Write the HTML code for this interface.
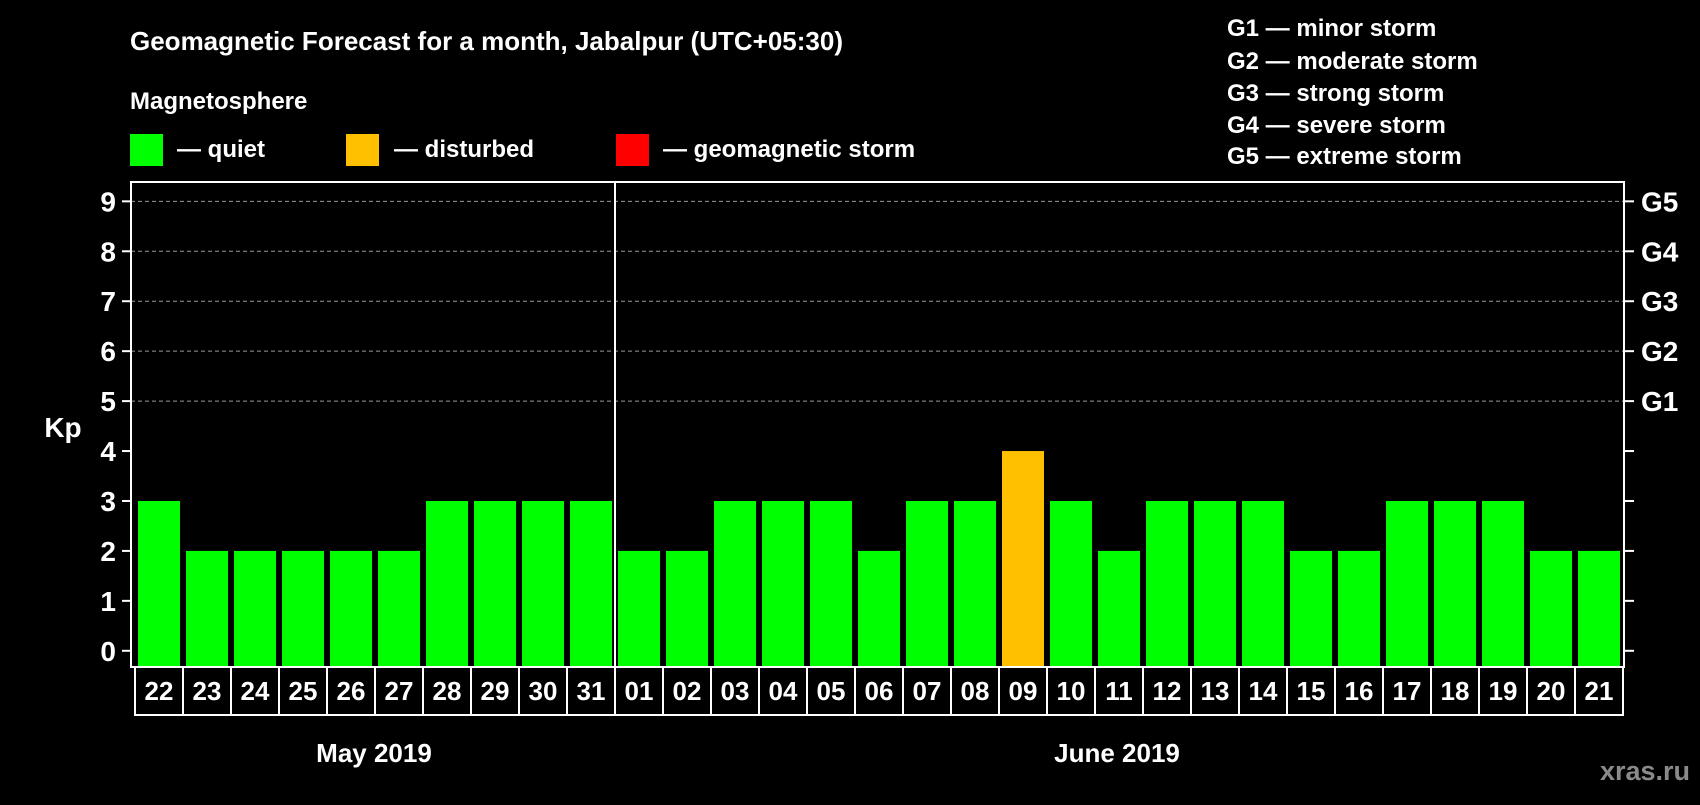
<!DOCTYPE html>
<html><head><meta charset="utf-8"><style>
body{margin:0;background:#000;width:1700px;height:800px;overflow:hidden}
svg text{font-family:"Liberation Sans",Arial,sans-serif;font-weight:bold;fill:#fff}
</style></head><body>
<svg id="chart" width="1700" height="800" viewBox="0 0 1700 800" xmlns="http://www.w3.org/2000/svg">
<rect width="1700" height="800" fill="#000"/>
<text x="130" y="50" font-size="26">Geomagnetic Forecast for a month, Jabalpur (UTC+05:30)</text>
<text x="130" y="109" font-size="24">Magnetosphere</text>
<rect x="130" y="134" width="33" height="32" fill="#00ff00"/>
<text x="177" y="157" font-size="24">— quiet</text>
<rect x="346" y="134" width="33" height="32" fill="#ffc000"/>
<text x="394" y="157" font-size="24">— disturbed</text>
<rect x="616" y="134" width="33" height="32" fill="#ff0000"/>
<text x="663" y="157" font-size="24">— geomagnetic storm</text>
<g font-size="24">
<text x="1227" y="36">G1 — minor storm</text>
<text x="1227" y="69">G2 — moderate storm</text>
<text x="1227" y="101">G3 — strong storm</text>
<text x="1227" y="133">G4 — severe storm</text>
<text x="1227" y="164">G5 — extreme storm</text>
</g>
<g id="grid"></g><g id="bars"></g><g id="axes"></g>
<text x="63" y="437" font-size="28" text-anchor="middle">Kp</text>
<text x="374" y="762" font-size="26" text-anchor="middle">May 2019</text>
<text x="1117" y="762" font-size="26" text-anchor="middle">June 2019</text>
<text x="1690" y="780" font-size="27" fill="#8a8a8a" style="fill:#8a8a8a" text-anchor="end">xras.ru</text>
</svg>
<script>
const days = ["22","23","24","25","26","27","28","29","30","31","01","02","03","04","05","06","07","08","09","10","11","12","13","14","15","16","17","18","19","20","21"];
const kpValues = [3,2,2,2,2,2,3,3,3,3,2,2,3,3,3,2,3,3,4,3,2,3,3,3,2,2,3,3,3,2,2];
const yTicks = [0,1,2,3,4,5,6,7,8,9];
const gLabels = ["G1","G2","G3","G4","G5"];
const gLevels = [5,6,7,8,9];
const monthSplitIndex = 10;

const NS="http://www.w3.org/2000/svg";
const L=131,R=1624,T=182,B=667,x0=135,slot=48,bw=42;
const y=v=>650.8-v*49.94;
const xs=i=>x0+i*slot;
function mk(tag,attrs,parent){const e=document.createElementNS(NS,tag);for(const k in attrs)e.setAttribute(k,attrs[k]);parent.appendChild(e);return e;}
const grid=document.getElementById('grid'),bars=document.getElementById('bars'),axes=document.getElementById('axes');
gLevels.forEach((v,i)=>{
 const l=mk('line',{x1:L,x2:R,y1:y(v),y2:y(v),stroke:'#999','stroke-width':1,'stroke-dasharray':'4,3'},grid);
 
 
 const t=mk('text',{x:1641,y:y(v)+10,'font-size':28},axes);t.textContent=gLabels[i];
 
 
});
kpValues.forEach((v,i)=>{
 const c=v>=5?'#ff0000':(v>=4?'#ffc000':'#00ff00');
 const r=mk('rect',{x:xs(i)+3,y:y(v),width:bw,height:B-y(v),fill:c},bars);
 
 
 const cell=mk('rect',{x:xs(i),y:B,width:slot,height:48,fill:'none',stroke:'#fff','stroke-width':2},axes);
 
 
 const t=mk('text',{x:xs(i)+slot/2,y:B+33,'font-size':26,'text-anchor':'middle'},axes);t.textContent=days[i];
 
 
});
const f=mk('rect',{x:L,y:T,width:R-L,height:B-T,fill:'none',stroke:'#fff','stroke-width':2},axes);


const d=mk('line',{x1:xs(monthSplitIndex),x2:xs(monthSplitIndex),y1:T,y2:B+48,stroke:'#fff','stroke-width':2},axes);


yTicks.forEach(v=>{
 mk('line',{x1:L-9,x2:L,y1:y(v),y2:y(v),stroke:'#fff','stroke-width':2},axes);
 mk('line',{x1:R,x2:R+10,y1:y(v),y2:y(v),stroke:'#fff','stroke-width':2},axes);
 const t=mk('text',{x:116,y:y(v)+10,'font-size':28,'text-anchor':'end'},axes);t.textContent=v;
 
 
});
</script>
</body></html>
